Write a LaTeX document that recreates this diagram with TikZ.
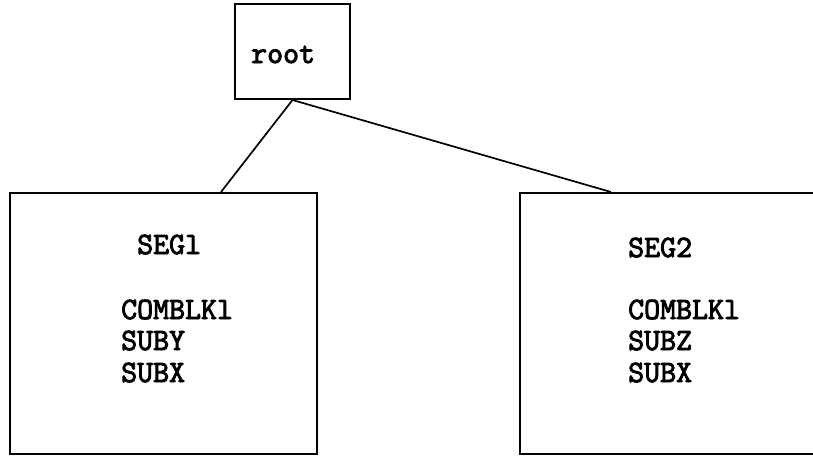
\documentclass[tikz,border=0pt]{standalone}
\usepackage{fontspec}
\newfontfamily\twfont{Latin Modern Mono}[AutoFakeBold=3]
\usetikzlibrary{calc}
\begin{document}
\begin{tikzpicture}[x=1pt,y=-1pt,
  box/.style={draw, line width=2pt, rectangle, inner sep=0pt},
  lbl/.style={anchor=base west, inner sep=0pt, font=\twfont\bfseries\fontsize{31}{34}\selectfont},
  link/.style={line width=1.7pt}]
\useasboundingbox (0,0) rectangle (813,455);
\node[box, minimum width=115pt, minimum height=95pt] (root) at (292.5,51.5) {};
\node[lbl] (rootlbl) at (251,63) {root};
\node[box, minimum width=307pt, minimum height=261pt] (seg1) at (163.5,323.5) {};
\node[box, minimum width=310pt, minimum height=261pt] (seg2) at (675,323.5) {};
\node[lbl] (s1a) at (137,254) {SEGl};
\node[lbl] (s1b) at (121,319) {COMBLKl};
\node[lbl] (s1c) at (121,350) {SUBY};
\node[lbl] (s1d) at (121,382) {SUBX};
\node[lbl] (s2a) at (628,257) {SEG2};
\node[lbl] (s2b) at (628,319) {COMBLKl};
\node[lbl] (s2c) at (628,350) {SUBZ};
\node[lbl] (s2d) at (628,382) {SUBX};
\coordinate (e1) at ($(seg1.north west)+(212,0)$);
\coordinate (e2) at ($(seg2.north west)+(92,0)$);
\draw[link] (root.south) -- (e1);
\draw[link] (root.south) -- (e2);
\end{tikzpicture}
\end{document}
